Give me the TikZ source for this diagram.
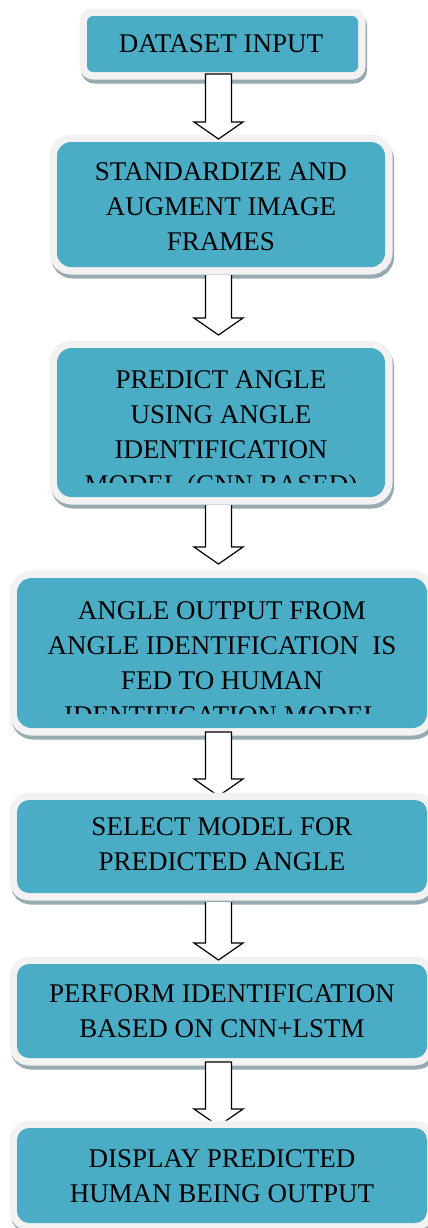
\documentclass[tikz,border=0pt]{standalone}
\usepackage{fontspec}
\setmainfont{Liberation Serif}
\usetikzlibrary{calc}
\definecolor{tealc}{HTML}{4BACC6}
\definecolor{ringc}{HTML}{F2F2F2}
\definecolor{shadowc}{HTML}{95AAB2}
\tikzset{
  flowbox/.style={rectangle, inner sep=0pt, outer sep=0pt, fill=tealc,
    preaction={fill=shadowc, draw=shadowc, line width=11.25pt,
      transform canvas={shift={(1.2pt,-3pt)}}},
    preaction={draw=ringc, line width=11.25pt}},
  boxtext/.style={inner sep=0pt, anchor=base, font=\fontsize{20.25}{26.4}\selectfont},
  arrowline/.style={draw=black, line width=0.9pt, line join=miter},
}
\newcommand\blockarrow[3]{%
  \fill[white] let \p1=(#1), \p2=(#2) in
    (\x2-9.75pt,\y1) -- (\x2-9.75pt,\y2+12.75pt) -- (\x2-18.375pt,\y2+12.75pt)
    -- (\x2,\y2) -- (\x2+18.375pt,\y2+12.75pt) -- (\x2+9.75pt,\y2+12.75pt)
    -- (\x2+9.75pt,\y1) -- cycle;
  \draw[arrowline] let \p1=(#1), \p2=(#2) in
    (\x2-9.75pt,\y1) -- (\x2-9.75pt,\y2+12.75pt) -- (\x2-18.375pt,\y2+12.75pt)
    -- (\x2,\y2) -- (\x2+18.375pt,\y2+12.75pt) -- (\x2+9.75pt,\y2+12.75pt)
    -- (\x2+9.75pt,\y1) #3;}
\begin{document}
\begin{tikzpicture}[x=0.75pt,y=-0.75pt]
\useasboundingbox (0,0) rectangle (428,1228);
\fill[white] (0,0) rectangle (428,1228);
\coordinate (axis) at (218.5,0);

% box 1
\node[flowbox, rounded corners=4.5pt, minimum width=203.25pt, minimum height=42pt] (b1) at (222.5,44) {};
\node[boxtext] (t1) at (221,52) {DATASET INPUT};

% box 2
\node[flowbox, rounded corners=10.5pt, minimum width=246pt, minimum height=93.75pt] (b2) at (221,204.5) {};
\node[boxtext] (t2) at (221,180) {\begin{tabular}[t]{@{}c@{}}STANDARDIZE AND\\AUGMENT IMAGE\\FRAMES\end{tabular}};

% box 3
\node[flowbox, rounded corners=11pt, minimum width=246pt, minimum height=111.75pt] (b3) at (221,422.5) {};
\begin{scope}
\clip (0,340) rectangle (428,482);
\node[boxtext] (t3) at (221,388) {\begin{tabular}[t]{@{}c@{}}PREDICT ANGLE\\USING ANGLE\\IDENTIFICATION\\MODEL (CNN BASED)\end{tabular}};
\end{scope}

% box 4
\node[flowbox, rounded corners=11pt, minimum width=307.5pt, minimum height=112.5pt] (b4) at (222,653) {};
\begin{scope}
\clip (0,570) rectangle (428,713);
\node[boxtext] (t4) at (222,619) {\begin{tabular}[t]{@{}c@{}}ANGLE OUTPUT FROM\\ANGLE IDENTIFICATION~ IS\\FED TO HUMAN\\IDENTIFICATION MODEL\end{tabular}};
\end{scope}

% arrow 4 (under box 5)
\coordinate (a4s) at ($(b4.south -| axis)+(0,4)$);
\coordinate (a4t) at ($(b4.south -| axis)+(0,68)$);
\blockarrow{a4s}{a4t}{-- cycle}

% box 5
\node[flowbox, rounded corners=9pt, minimum width=307.5pt, minimum height=69.75pt] (b5) at (222,846.5) {};
\node[boxtext] (t5) at (222,835) {\begin{tabular}[t]{@{}c@{}}SELECT MODEL FOR\\PREDICTED ANGLE\end{tabular}};

% box 6
\node[flowbox, rounded corners=9pt, minimum width=307.5pt, minimum height=70.5pt] (b6) at (222,1011) {};
\node[boxtext] (t6) at (222,1002) {\begin{tabular}[t]{@{}c@{}}PERFORM IDENTIFICATION\\BASED ON CNN+LSTM\end{tabular}};

% arrow 6 (under box 7)
\coordinate (a6s) at ($(b6.south -| axis)+(0,4)$);
\coordinate (a6t) at ($(b6.south -| axis)+(0,68)$);
\blockarrow{a6s}{a6t}{-- cycle}

% box 7
\node[flowbox, rounded corners=9pt, minimum width=307.5pt, minimum height=71.25pt] (b7) at (222,1175.5) {};
\node[boxtext] (t7) at (222,1167) {\begin{tabular}[t]{@{}c@{}}DISPLAY PREDICTED\\HUMAN BEING OUTPUT\end{tabular}};

% arrows on top
\coordinate (a1s) at ($(b1.south -| axis)+(0,2)$);
\coordinate (a1t) at ($(b2.north -| axis)+(0,-3)$);
\blockarrow{a1s}{a1t}{-- cycle}
\coordinate (a2s) at ($(b2.south -| axis)+(0,8)$);
\coordinate (a2t) at ($(b3.north -| axis)+(0,-13)$);
\blockarrow{a2s}{a2t}{}
\coordinate (a3s) at ($(b3.south -| axis)+(0,8)$);
\coordinate (a3t) at ($(b4.north -| axis)+(0,-14)$);
\blockarrow{a3s}{a3t}{}
\coordinate (a5s) at ($(b5.south -| axis)+(0,9)$);
\coordinate (a5t) at ($(b6.north -| axis)+(0,-4)$);
\blockarrow{a5s}{a5t}{}
\end{tikzpicture}
\end{document}
